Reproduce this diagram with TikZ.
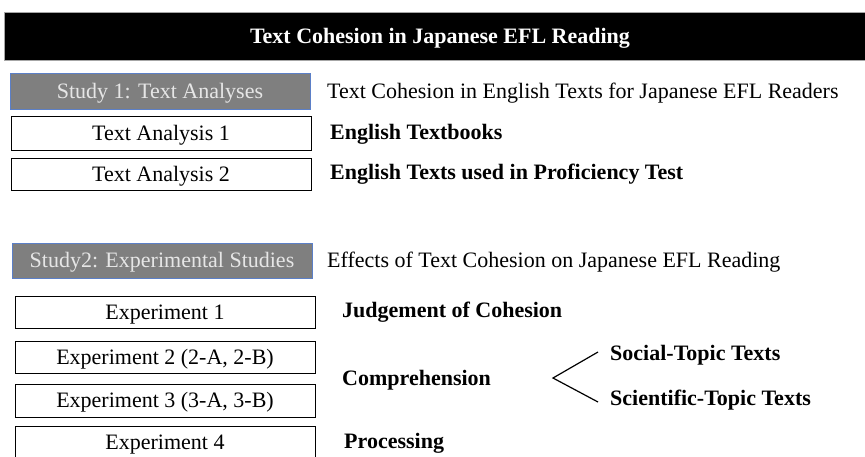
\documentclass[tikz,border=0pt]{standalone}
\usepackage{fontspec}
\setmainfont{Liberation Serif}
\definecolor{studyfill}{HTML}{7F7F7F}
\definecolor{studytext}{HTML}{E6E6E6}
\definecolor{studyedge}{HTML}{5B7FC7}
\definecolor{baredge}{HTML}{A6A6A6}
\begin{document}
\begin{tikzpicture}[x=1pt,y=1pt,
  every node/.style={font=\fontsize{22}{26}\selectfont, text height=14.5pt, text depth=0pt},
  studybox/.style={draw=studyedge, line width=0.8pt, fill=studyfill, text=studytext, minimum width=300pt, inner sep=0pt},
  itembox/.style={draw=black, line width=1pt, fill=white, minimum width=300pt, inner sep=0pt},
  desc/.style={anchor=west, inner sep=0pt},
  bolddesc/.style={anchor=west, inner sep=0pt, font=\fontsize{22}{26}\selectfont\bfseries}]
\useasboundingbox (0,0) rectangle (865,-456);
\fill[white] (0,0) rectangle (865,-456);
% title bar
\node[draw=baredge, line width=0.8pt, fill=black, minimum width=870pt, minimum height=48pt, inner sep=0pt, anchor=north west] (title) at (4,-12) {};
\node[text=white, font=\fontsize{22}{26}\selectfont\bfseries, inner sep=0pt] (titletext) at (440,-36.5) {Text Cohesion in Japanese EFL Reading};
% Study 1
\node[studybox, minimum height=36pt] (s1) at (160,-91) {Study 1: Text Analyses};
\node[desc] (s1d) at (327,-91.5) {Text Cohesion in English Texts for Japanese EFL Readers};
\node[itembox, minimum height=34pt] (ta1) at (161,-133) {Text Analysis 1};
\node[itembox, minimum height=32pt] (ta2) at (161,-174) {Text Analysis 2};
\node[bolddesc] (ta1d) at (330,-132.5) {English Textbooks};
\node[bolddesc] (ta2d) at (330,-172.5) {English Texts used in Proficiency Test};
% Study 2
\node[studybox, minimum height=35pt] (s2) at (162,-260.5) {Study2: Experimental Studies};
\node[desc] (s2d) at (327,-260.5) {Effects of Text Cohesion on Japanese EFL Reading};
\node[itembox, minimum height=32pt] (e1) at (165,-312) {Experiment 1};
\node[itembox, minimum height=32pt] (e2) at (165,-357) {Experiment 2 (2-A, 2-B)};
\node[itembox, minimum height=33pt] (e3) at (165,-400.5) {Experiment 3 (3-A, 3-B)};
\node[itembox, minimum height=32pt] (e4) at (165,-442) {Experiment 4};
\node[bolddesc] (e1d) at (342,-310.5) {Judgement of Cohesion};
\node[bolddesc] (comp) at (342,-378.5) {Comprehension};
\node[bolddesc] (e4d) at (344,-441.5) {Processing};
\node[bolddesc] (soc) at (610,-353.5) {Social-Topic Texts};
\node[bolddesc] (sci) at (610,-398.5) {Scientific-Topic Texts};
\coordinate (apex) at (553,-378);
\coordinate (socend) at (598,-352);
\coordinate (sciend) at (598,-402);
\draw[line width=1.2pt] (socend) -- (apex) -- (sciend);
\end{tikzpicture}
\end{document}
